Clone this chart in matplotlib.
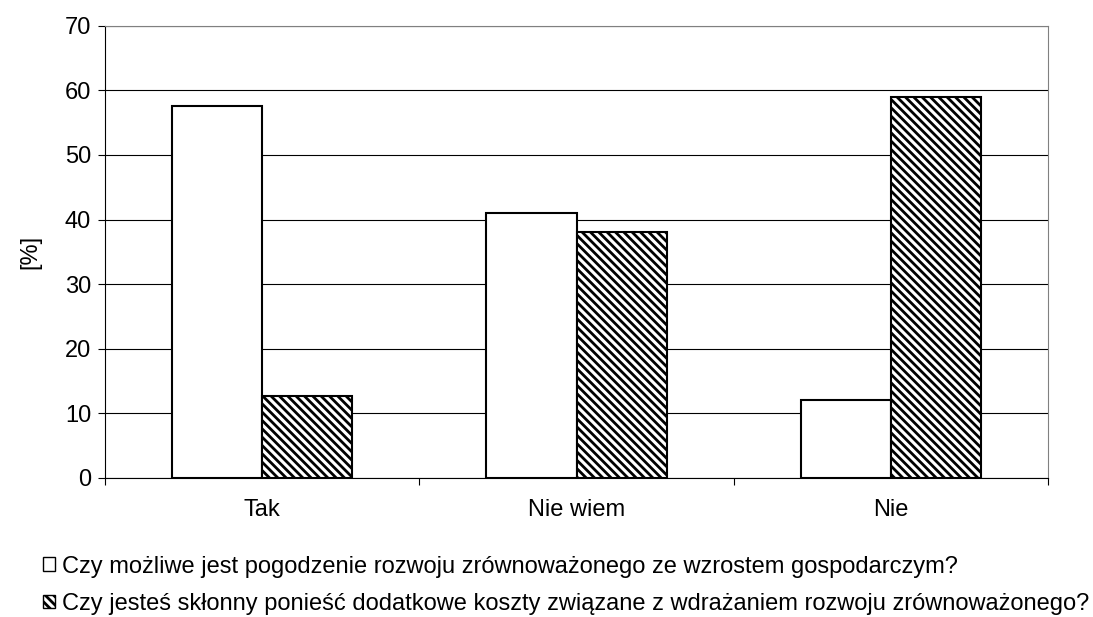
"""plot.py - grouped bar chart, survey answers"""

import matplotlib.pyplot as plt
from matplotlib.patches import Patch

plt.rcParams["font.family"] = ["Liberation Sans", "DejaVu Sans"]
plt.rcParams["hatch.linewidth"] = 2.0

# === DATA ===
CATEGORIES = ["Tak", "Nie wiem", "Nie"]
SERIES_1 = [57.5, 41.0, 12.0]
SERIES_2 = [12.7, 38.0, 59.0]
LABEL_1 = "Czy możliwe jest pogodzenie rozwoju zrównoważonego ze wzrostem gospodarczym?"
LABEL_2 = "Czy jesteś skłonny ponieść dodatkowe koszty związane z wdrażaniem rozwoju zrównoważonego?"
Y_TICKS = [0, 10, 20, 30, 40, 50, 60, 70]

FONT_SIZE = 17
HATCH = "\\" * 4

# === FIGURE ===
fig = plt.figure(figsize=(10.93, 6.17), dpi=100)
ax = fig.add_axes([0.0961, 0.2253, 0.8628, 0.7331])

width = 0.287
x = list(range(len(CATEGORIES)))
ax.bar([i - width / 2 for i in x], SERIES_1, width=width, color="white",
       edgecolor="black", linewidth=1.5, zorder=3)
ax.bar([i + width / 2 for i in x], SERIES_2, width=width, color="white",
       edgecolor="black", linewidth=1.5, hatch=HATCH, zorder=3)

ax.set_xlim(-0.5, len(CATEGORIES) - 0.5)
ax.set_ylim(0, 70)
ax.set_yticks(Y_TICKS)
ax.yaxis.grid(True, color="black", linewidth=0.8, zorder=0)

# category labels as minor ticks, separators as major ticks
ax.set_xticks([i - 0.5 for i in range(len(CATEGORIES) + 1)])
ax.set_xticklabels([])
ax.set_xticks(x, minor=True)
ax.set_xticklabels(CATEGORIES, minor=True)
ax.tick_params(axis="x", which="major", length=5, width=0.8)
ax.tick_params(axis="x", which="minor", length=0, pad=15, labelsize=FONT_SIZE)
ax.tick_params(axis="y", length=5, width=0.8, labelsize=FONT_SIZE, pad=5)

for side in ["top", "right"]:
    ax.spines[side].set_color("#808080")
    ax.spines[side].set_linewidth(0.8)
for side in ["left", "bottom"]:
    ax.spines[side].set_color("black")
    ax.spines[side].set_linewidth(0.8)

ax.set_ylabel("[%]", fontsize=FONT_SIZE, labelpad=17)

handles = [
    Patch(facecolor="white", edgecolor="black", linewidth=1.0, label=LABEL_1),
    Patch(facecolor="white", edgecolor="black", linewidth=1.0, hatch=HATCH, label=LABEL_2),
]
fig.legend(handles=handles, loc="upper left", bbox_to_anchor=(0.0395, 0.0995),
           frameon=False, fontsize=FONT_SIZE, handlelength=0.5, handleheight=0.5,
           handletextpad=0.3, labelspacing=0.64, borderpad=0, borderaxespad=0)

fig.savefig("out.png", dpi=100)
